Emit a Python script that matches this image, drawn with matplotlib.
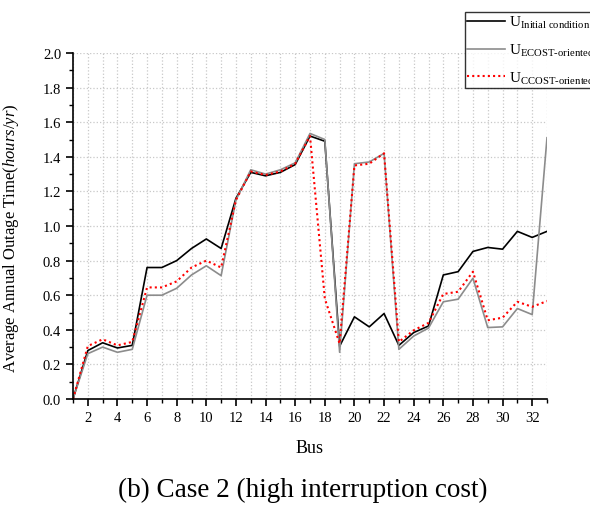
import matplotlib
matplotlib.use('Agg')
import matplotlib.pyplot as plt
from matplotlib.ticker import MultipleLocator, FormatStrFormatter

# data
bus = list(range(1, 34))
u_initial = [0.0, 0.28, 0.325, 0.295, 0.31, 0.76, 0.76, 0.80, 0.87, 0.925, 0.87,
             1.16, 1.31, 1.29, 1.31, 1.355, 1.52, 1.49, 0.305, 0.475, 0.417, 0.494,
             0.31, 0.384, 0.422, 0.717, 0.736, 0.853, 0.876, 0.866, 0.969, 0.934, 0.969]
u_ecost = [0.0, 0.262, 0.30, 0.27, 0.287, 0.60, 0.60, 0.64, 0.717, 0.77, 0.713,
           1.15, 1.325, 1.30, 1.325, 1.365, 1.535, 1.50, 0.27, 1.36, 1.37, 1.42,
           0.287, 0.364, 0.41, 0.562, 0.577, 0.698, 0.413, 0.417, 0.523, 0.488, 1.51]
u_ccost = [0.0, 0.306, 0.345, 0.31, 0.33, 0.645, 0.645, 0.68, 0.76, 0.80, 0.76,
           1.15, 1.315, 1.295, 1.315, 1.36, 1.52, 0.58, 0.32, 1.35, 1.36, 1.42,
           0.33, 0.397, 0.44, 0.607, 0.62, 0.736, 0.455, 0.47, 0.562, 0.533, 0.566]

labels = [r'U$_{\mathrm{Initial\ condition}}$',
          r'U$_{\mathrm{ECOST\text{-}oriented}}$',
          r'U$_{\mathrm{CCOST\text{-}oriented}}$']

plt.rcParams['font.family'] = ['Liberation Serif', 'DejaVu Serif']
plt.rcParams['mathtext.fontset'] = 'custom'
plt.rcParams['mathtext.rm'] = 'Liberation Serif'
plt.rcParams['mathtext.it'] = 'Liberation Serif:italic'

fig = plt.figure(figsize=(5.9, 5.1), dpi=100)
ax = fig.add_axes([73 / 590, 1 - 400 / 510, 474 / 590, 346 / 510])

ax.plot(bus, u_initial, color='black', lw=1.2, label=labels[0])
ax.plot(bus, u_ecost, color='#8c8c8c', lw=1.2, label=labels[1])
ax.plot(bus, u_ccost, color='red', lw=1.5, ls=(0, (1, 1.5)), label=labels[2])

ax.set_xlim(1, 33)
ax.set_ylim(0, 2.0)
ax.set_xticks([b for b in bus if b % 2 == 0])
ax.xaxis.set_minor_locator(MultipleLocator(1))
ax.yaxis.set_major_locator(MultipleLocator(0.2))
ax.yaxis.set_minor_locator(MultipleLocator(0.1))
ax.yaxis.set_major_formatter(FormatStrFormatter('%.1f'))

ax.grid(which='major', axis='y', color='#c8c8c8', ls=':', lw=0.9)
ax.grid(which='both', axis='x', color='#c8c8c8', ls=':', lw=0.9)
ax.set_axisbelow(True)

for s in ['top', 'right']:
    ax.spines[s].set_visible(False)
for s in ['left', 'bottom']:
    ax.spines[s].set_linewidth(1.2)

ax.tick_params(which='major', direction='out', length=5, width=1.2, labelsize=10.5)
ax.tick_params(which='minor', direction='out', length=3, width=1.0)

ax.set_xlabel('Bus', fontsize=13, labelpad=11)
ax.set_ylabel(r'Average Annual Outage Time($\mathit{hours/yr}$)', fontsize=12)
ax.yaxis.set_label_coords(-0.11, 0.468)

leg = fig.legend(loc='upper left', bbox_to_anchor=(465 / 590, 1 - 13 / 510),
                 fontsize=11, frameon=True, fancybox=False, handlelength=2.5,
                 borderaxespad=0, borderpad=0.15, labelspacing=0.75, handletextpad=0.2)
leg.get_frame().set_edgecolor('black')
leg.get_frame().set_linewidth(1.0)

fig.text(303 / 590, 1 - 490 / 510, '(b) Case 2 (high interruption cost)', ha='center',
         va='center', fontsize=19.5)

fig.savefig('out.png', dpi=100)
